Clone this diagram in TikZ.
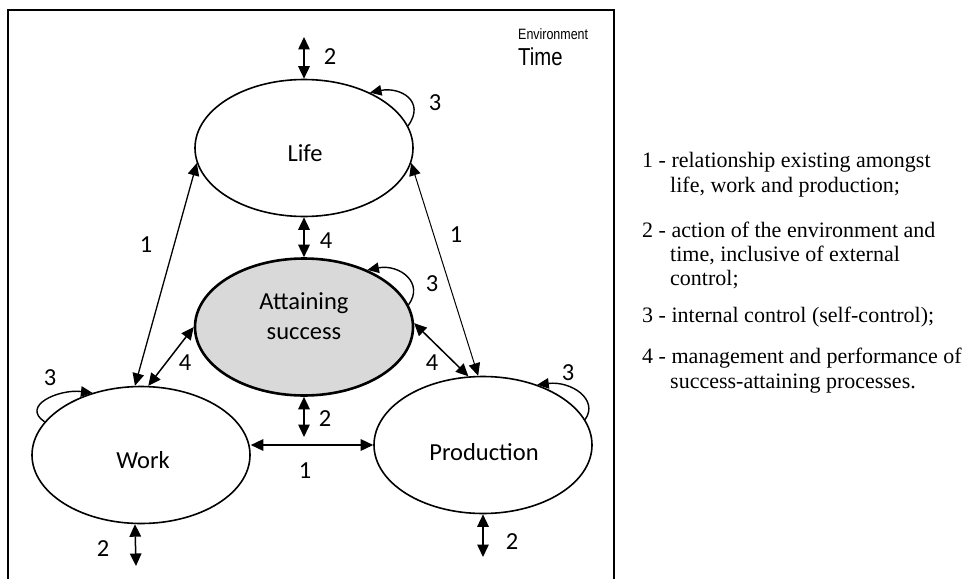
\documentclass[tikz,border=0pt]{standalone}
\usepackage{fontspec}
\setmainfont{Liberation Serif}
\newfontfamily\calibrifont{Carlito}
\newfontfamily\narrowfont[FakeStretch=0.83]{Liberation Sans}
\usetikzlibrary{shapes.geometric,arrows.meta}
\definecolor{shade}{HTML}{D9D9D9}
\newcommand{\lblfont}{\calibrifont\fontsize{24.5}{30}\selectfont}
\newcommand{\legfont}{\fontsize{22}{26}\selectfont}

\begin{document}
\begin{tikzpicture}[x=1pt,y=-1pt,
    circlebox/.style={ellipse, draw, line width=1.6pt, minimum width=218pt,
      minimum height=137pt, inner sep=0pt},
    nametext/.style={font=\lblfont, inner sep=0pt, align=center},
    num/.style={font=\lblfont, inner sep=0pt},
    link/.style={arrows={Triangle[length=12.5pt,width=11.5pt]-Triangle[length=12.5pt,width=11.5pt]},
      line width=1.5pt},
    selfloop/.style={arrows={-Triangle[length=11.5pt,width=10.5pt]}, line width=1.4pt},
    legend/.style={font=\legfont, inner sep=0pt, anchor=base west}]
    \useasboundingbox (0,0) rectangle (976,578);

    % frame
    \draw[line width=2pt] (8,600) -- (8,10) -- (614,10) -- (614,600);
    \node[font=\narrowfont\fontsize{15}{18}\selectfont, inner sep=0pt, anchor=base west]
      (envtext) at (518,39.5) {Environment};
    \node[font=\narrowfont\fontsize{24.5}{28}\selectfont, inner sep=0pt, anchor=base west]
      (timetext) at (518,66) {Time};

    % ellipses
    \node[circlebox] (life) at (304,148) {};
    \node[circlebox, fill=shade, line width=2.6pt] (success) at (304,327) {};
    \node[circlebox] (work) at (141,455) {};
    \node[circlebox] (production) at (483,445) {};
    \node[nametext] (lifetext) at (305,153) {Life};
    \node[nametext] (successtext) at (304,316) {Attaining\\success};
    \node[nametext] (worktext) at (143,460) {Work};
    \node[nametext] (productiontext) at (484,452) {Production};

    % free ends
    \coordinate (lifeenv) at (304,37);
    \coordinate (successenv) at (304,437);
    \coordinate (workenv) at (136,566);
    \coordinate (prodenv) at (483,557);

    % 2 - environment and time
    \draw[link] (life.north) -- (lifeenv);
    \draw[link] (success.south) -- (successenv);
    \draw[link] (work.265) -- (workenv);
    \draw[link] (production.south) -- (prodenv);
    \node[num] (n2a) at (330,57) {2};
    \node[num] (n2b) at (325,419) {2};
    \node[num] (n2c) at (103,549) {2};
    \node[num] (n2d) at (512,542) {2};

    % 1 - life, work, production
    \draw[link, line width=1.3pt] (life.188) -- (work.95);
    \draw[link, line width=1pt] (life.352) -- (production.94);
    \draw[link] (production.west) -- (production.west -| work.east);
    \node[num] (n1a) at (146,245) {1};
    \node[num] (n1b) at (456,235) {1};
    \node[num] (n1c) at (305,471) {1};

    % 4 - management
    \draw[link] (life.south) -- (success.north);
    \draw[link] (success.west) -- (work.84);
    \draw[link] (success.2) -- (production.102);
    \node[num] (n4a) at (326,241) {4};
    \node[num] (n4b) at (185,363) {4};
    \node[num] (n4c) at (432,363) {4};

    % 3 - self-control
    \draw[selfloop] (life.12) .. controls +(18,-25) and +(30,-6) .. (life.40);
    \draw[selfloop] (success.12) .. controls +(16,-22) and +(32,-6) .. (success.42);
    \draw[selfloop] (work.161) .. controls +(-24,-16) and +(-34,-4) .. (work.128);
    \draw[selfloop] (production.14) .. controls +(14,-20) and +(34,-4) .. (production.48);
    \node[num] (n3a) at (435,103) {3};
    \node[num] (n3b) at (432,284) {3};
    \node[num] (n3c) at (50,378) {3};
    \node[num] (n3d) at (568,373) {3};

    % legend
    \node[legend] (leg1a) at (642,167) {1 - relationship existing amongst};
    \node[legend] (leg1b) at (670,192) {life, work and production;};
    \node[legend] (leg2a) at (642,237) {2 - action of the environment and};
    \node[legend] (leg2b) at (670,261) {time, inclusive of external};
    \node[legend] (leg2c) at (670,285) {control;};
    \node[legend] (leg3a) at (642,322) {3 - internal control (self-control);};
    \node[legend] (leg4a) at (642,363) {4 - management and performance of};
    \node[legend] (leg4b) at (670,388) {success-attaining processes.};
\end{tikzpicture}
\end{document}
